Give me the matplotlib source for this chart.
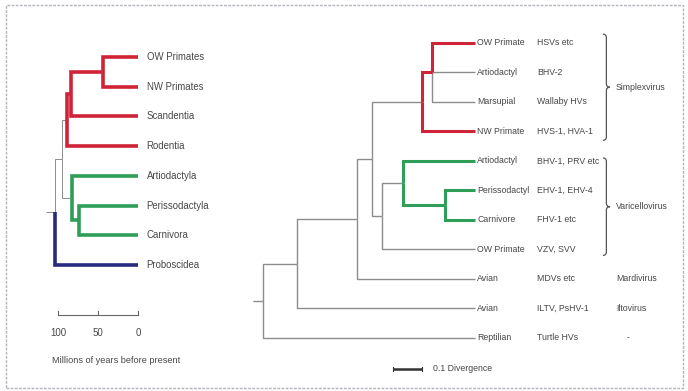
import matplotlib
matplotlib.use("Agg")
import matplotlib.pyplot as plt
from matplotlib.path import Path
from matplotlib.patches import PathPatch, Rectangle

plt.rcParams['font.family'] = ['Liberation Sans', 'DejaVu Sans']

RED = '#cf2438'
GREEN = '#2f9e58'
BLUE = '#262a80'
GRAY = '#8c8c8c'
TXT = '#474747'

# host tree (millions of years before present)
host_tips = ['OW Primates', 'NW Primates', 'Scandentia', 'Rodentia',
             'Artiodactyla', 'Perissodactyla', 'Carnivora', 'Proboscidea']
host_tip_colors = [RED, RED, RED, RED, GREEN, GREEN, GREEN, BLUE]
# name, age, children, colour of the stem leading to the node
host_nodes = [
    ('primates', 44, [0, 1], RED),
    ('euarch_core', 84, ['primates', 2], RED),
    ('euarch', 89, ['euarch_core', 3], GRAY),
    ('peri_carn', 74, [5, 6], GREEN),
    ('laur', 82.5, [4, 'peri_carn'], GRAY),
    ('boreo', 95, ['euarch', 'laur'], GRAY),
    ('root', 104, ['boreo', 7], GRAY),
]
host_root_stub = 115
host_scale_ticks = [100, 50, 0]

# virus tree (divergence from the root)
virus_hosts = ['OW Primate', 'Artiodactyl', 'Marsupial', 'NW Primate', 'Artiodactyl',
               'Perissodactyl', 'Carnivore', 'OW Primate', 'Avian', 'Avian', 'Reptilian']
virus_names = ['HSVs etc', 'BHV-2', 'Wallaby HVs', 'HVS-1, HVA-1', 'BHV-1, PRV etc',
               'EHV-1, EHV-4', 'FHV-1 etc', 'VZV, SVV', 'MDVs etc', 'ILTV, PsHV-1', 'Turtle HVs']
virus_tip_colors = [RED, GRAY, GRAY, RED, GREEN, GREEN, GREEN, GRAY, GRAY, GRAY, GRAY]
virus_tip_depth = 0.731
virus_nodes = [
    ('trich', 0.583, [0, 1, 2], RED),
    ('simplex', 0.548, ['trich', 3], GRAY),
    ('pc', 0.628, [5, 6], GREEN),
    ('varic', 0.483, [4, 'pc'], GRAY),
    ('vzv', 0.410, ['varic', 7], GRAY),
    ('alpha', 0.376, ['simplex', 'vzv'], GRAY),
    ('mardi', 0.324, ['alpha', 8], GRAY),
    ('ilto', 0.117, ['mardi', 9], GRAY),
    ('root', 0.0, ['ilto', 10], GRAY),
]
virus_root_stub = -0.034
genus_braces = [('Simplexvirus', -0.3, 3.3), ('Varicellovirus', 3.9, 7.2)]
genus_single = [('Mardivirus', 8), ('Iltovirus', 9), ('-', 10)]
divergence_bar = 0.1


def draw_tree(ax, tip_x, tip_colors, nodes, stub_x, thick, thin):
    pos = {i: (tip_x, i) for i in range(len(tip_colors))}
    col = {i: c for i, c in enumerate(tip_colors)}
    segs = []
    for name, x, kids, c in nodes:
        ys = [pos[k][1] for k in kids]
        yc = (min(ys) + max(ys)) / 2
        for k in kids:
            kx, ky = pos[k]
            segs.append(([x, x, kx], [yc, ky, ky], col[k]))
        pos[name] = (x, yc)
        col[name] = c
    rx, ry = pos[nodes[-1][0]]
    segs.append(([stub_x, rx], [ry, ry], GRAY))
    # grey branches underneath, coloured ones on top
    for xs, ys, c in sorted(segs, key=lambda s: s[2] != GRAY):
        ax.plot(xs, ys, color=c, lw=thin if c == GRAY else thick,
                solid_joinstyle='miter', solid_capstyle='butt', clip_on=False)


fig = plt.figure(figsize=(6.88, 3.91), dpi=100)

# left: host phylogeny
axh = fig.add_axes([0.0610, 0.0184, 0.2267, 0.874])
axh.set_xlim(120, -75)
axh.set_ylim(11, -0.5)
axh.axis('off')
draw_tree(axh, 0, host_tip_colors, host_nodes, host_root_stub, 2.6, 0.7)
for i, name in enumerate(host_tips):
    axh.text(-11, i, name, fontsize=6.9, color=TXT, va='center', ha='left')
bar_y = 8.68
axh.plot([host_scale_ticks[0], host_scale_ticks[-1]], [bar_y, bar_y], color='#666666', lw=0.8)
for t in host_scale_ticks:
    axh.plot([t, t], [bar_y, bar_y - 0.12], color='#666666', lw=0.8)
    axh.text(t, 9.3, str(t), fontsize=7, color=TXT, ha='center', va='center')
axh.text(107.5, 10.2, 'Millions of years before present', fontsize=6.6, color=TXT,
         ha='left', va='center')

# right: virus phylogeny
axv = fig.add_axes([0.3612, 0.0036, 0.6323, 0.9468])
axv.set_xlim(-0.05, 1.45)
axv.set_ylim(11.75, -0.8)
axv.axis('off')
draw_tree(axv, virus_tip_depth, virus_tip_colors, virus_nodes, virus_root_stub, 2.2, 1.0)
for i, (h, v) in enumerate(zip(virus_hosts, virus_names)):
    axv.text(0.738, i, h, fontsize=6.3, color=TXT, va='center', ha='left')
    axv.text(0.945, i, v, fontsize=6.3, color=TXT, va='center', ha='left')

bx, w, r = 1.172, 0.012, 0.12
for label, y0, y1 in genus_braces:
    ym = (y0 + y1) / 2
    verts = [(bx, y0), (bx + w, y0), (bx + w, y0 + r), (bx + w, ym - r),
             (bx + w, ym), (bx + 2 * w, ym), (bx + w, ym), (bx + w, ym + r),
             (bx + w, y1 - r), (bx + w, y1), (bx, y1)]
    codes = [Path.MOVETO, Path.CURVE3, Path.CURVE3, Path.LINETO,
             Path.CURVE3, Path.CURVE3, Path.CURVE3, Path.CURVE3,
             Path.LINETO, Path.CURVE3, Path.CURVE3]
    axv.add_patch(PathPatch(Path(verts, codes), fill=False, edgecolor='#555555',
                            lw=0.9, clip_on=False))
    axv.text(1.217, ym, label, fontsize=6.3, color=TXT, va='center', ha='left')
for label, i in genus_single:
    axv.text(1.217 if label != '-' else 1.255, i, label, fontsize=6.3, color=TXT,
             va='center', ha='left')

sb_y = 11.05
sb_x0 = 0.448
axv.plot([sb_x0, sb_x0 + divergence_bar], [sb_y, sb_y], color='#333333', lw=1.8,
         solid_capstyle='butt')
for x in (sb_x0, sb_x0 + divergence_bar):
    axv.plot([x, x], [sb_y - 0.08, sb_y + 0.08], color='#333333', lw=0.8)
axv.text(0.586, sb_y, '0.1 Divergence', fontsize=6.3, color=TXT, va='center', ha='left')

# dashed frame around the figure
fig.patches.append(Rectangle((6 / 688, 3 / 391), 677 / 688, 383 / 391,
                             transform=fig.transFigure, fill=False,
                             edgecolor='#b4b4be', lw=1.0, linestyle=(0, (2, 1))))

fig.savefig('out.png', dpi=100)
